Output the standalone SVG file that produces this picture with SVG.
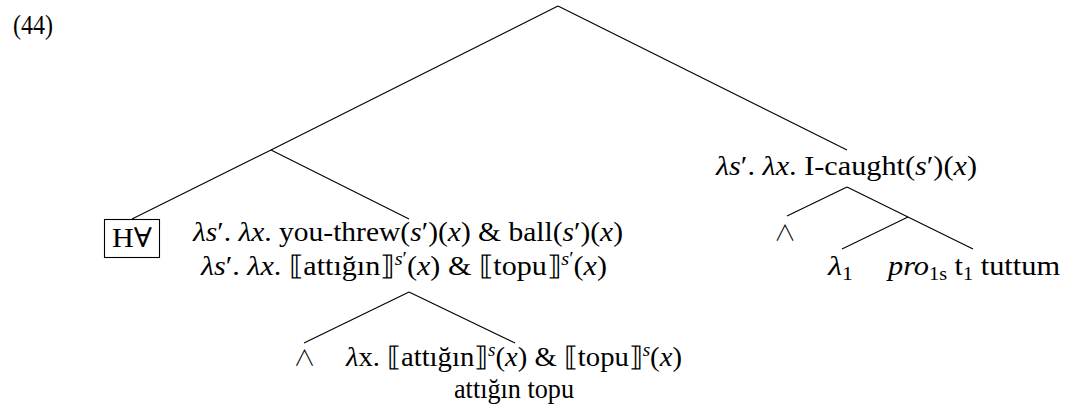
<svg xmlns="http://www.w3.org/2000/svg" width="1077" height="410" viewBox="0 0 1077 410">
<style>
text{font-family:"Liberation Serif","DejaVu Serif",serif;font-size:27px;fill:#000}
.i{font-style:italic}
.sm{font-size:18px}
.wedge{font-family:"Noto Sans CJK JP","DejaVu Sans",sans-serif;font-weight:300;font-size:22px;text-anchor:middle}
.conn line{stroke:#000;stroke-width:1.1;fill:none}
.box{fill:none;stroke:#000;stroke-width:1.1}
.mid{text-anchor:middle}
</style>
<rect width="1077" height="410" fill="#fff"/>
<g id="connectors" class="conn">
<line x1="558" y1="6" x2="271" y2="150"/>
<line x1="558" y1="6" x2="847" y2="150"/>
<line x1="271" y1="150" x2="132" y2="219"/>
<line x1="271" y1="150" x2="409" y2="219"/>
<line x1="409" y1="292" x2="304" y2="343"/>
<line x1="409" y1="292" x2="515" y2="343"/>
<line x1="847" y1="187" x2="787" y2="216"/>
<line x1="847" y1="187" x2="973" y2="249"/>
<line x1="908" y1="217" x2="842" y2="249"/>
</g>
<g id="label"><text x="13" y="34" font-size="25" textLength="40" lengthAdjust="spacingAndGlyphs">(44)</text></g>
<g id="node-hall">
<rect class="box" x="104.5" y="219.5" width="55" height="38"/>
<text class="mid" x="132" y="247" textLength="40" lengthAdjust="spacingAndGlyphs">H∀</text>
</g>
<g id="node-left">
<text x="193" y="241" textLength="430" lengthAdjust="spacingAndGlyphs"><tspan class="i">λs</tspan>′. <tspan class="i">λx</tspan>. you-threw(<tspan class="i">s</tspan>′)(<tspan class="i">x</tspan>) &amp; ball(<tspan class="i">s</tspan>′)(<tspan class="i">x</tspan>)</text>
<text x="201" y="275" textLength="406" lengthAdjust="spacingAndGlyphs"><tspan class="i">λs</tspan>′. <tspan class="i">λx</tspan>. ⟦attığın⟧<tspan class="sm" dy="-10"><tspan class="i">s</tspan>′</tspan><tspan dy="10">(</tspan><tspan class="i">x</tspan>) &amp; ⟦topu⟧<tspan class="sm" dy="-10"><tspan class="i">s</tspan>′</tspan><tspan dy="10">(</tspan><tspan class="i">x</tspan>)</text>
</g>
<g id="node-wedge-low"><text class="wedge" x="304.5" y="365">∧</text></g>
<g id="node-low">
<text x="346" y="366" textLength="336" lengthAdjust="spacingAndGlyphs"><tspan class="i">λ</tspan>x. ⟦attığın⟧<tspan class="sm i" dy="-10">s</tspan><tspan dy="10">(</tspan><tspan class="i">x</tspan>) &amp; ⟦topu⟧<tspan class="sm i" dy="-10">s</tspan><tspan dy="10">(</tspan><tspan class="i">x</tspan>)</text>
<text class="mid" x="514" y="398" textLength="120" lengthAdjust="spacingAndGlyphs">attığın topu</text>
</g>
<g id="node-right">
<text x="716" y="175" textLength="261" lengthAdjust="spacingAndGlyphs"><tspan class="i">λs</tspan>′. <tspan class="i">λx</tspan>. I-caught(<tspan class="i">s</tspan>′)(<tspan class="i">x</tspan>)</text>
</g>
<g id="node-wedge-right"><text class="wedge" x="785" y="240">∧</text></g>
<g id="node-lambda1"><text x="828" y="275" textLength="25" lengthAdjust="spacingAndGlyphs"><tspan class="i">λ</tspan><tspan class="sm" dy="5">1</tspan></text></g>
<g id="node-pro">
<text x="888" y="275" textLength="172" lengthAdjust="spacingAndGlyphs"><tspan class="i">pro</tspan><tspan class="sm" dy="5">1s</tspan><tspan dy="-5"> t</tspan><tspan class="sm" dy="5">1</tspan><tspan dy="-5"> tuttum</tspan></text>
</g>
</svg>
